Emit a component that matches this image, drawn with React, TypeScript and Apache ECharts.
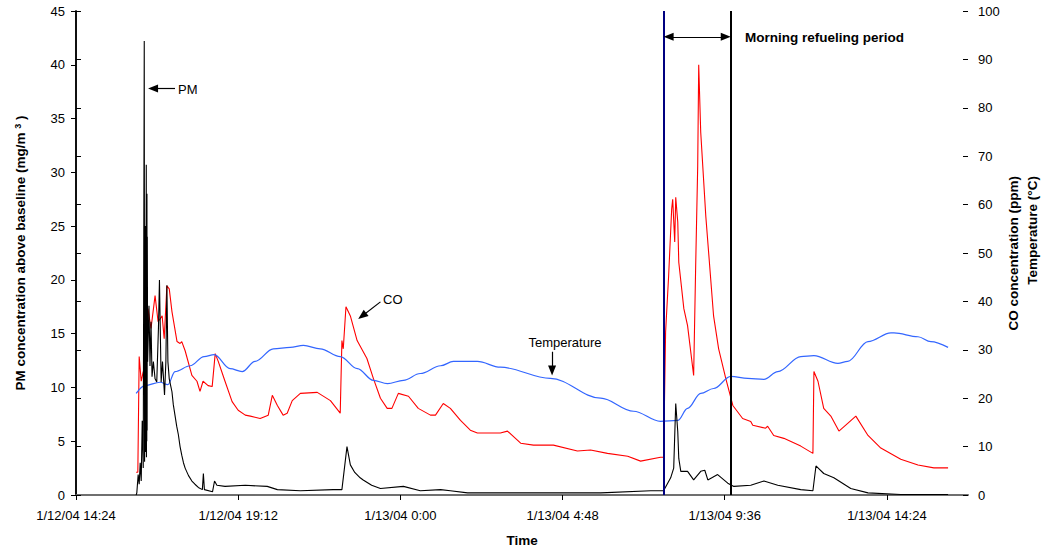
import { useEffect, useRef } from 'react';
import * as echarts from 'echarts';

// Hours elapsed since 1/12/04 14:24 on the x axis.
const xTickLabels = [
  '1/12/04 14:24',
  '1/12/04 19:12',
  '1/13/04 0:00',
  '1/13/04 4:48',
  '1/13/04 9:36',
  '1/13/04 14:24',
];
const tickHours = 4.8;
const spanHours = 26.4;

// Refueling window (hours since start)
const refuelStart = 17.39;
const refuelEnd = 19.38;

// PM concentration above baseline (mg/m3) — [hours, value]
const pmData: [number, number][] = [
  [1.78, 0], [1.8, 0.2], [1.84, 1.9], [1.87, 1.0], [1.9, 3.0], [1.93, 1.3], [1.96, 6.9], [1.99, 2.5],
  [2.02, 42.2], [2.03, 3.1], [2.05, 25.0], [2.06, 4.0], [2.08, 30.7], [2.085, 3.5], [2.09, 27.0],
  [2.095, 5.0], [2.1, 28.0], [2.105, 6.0], [2.11, 24.0], [2.12, 12.4], [2.16, 17.6], [2.19, 12.0],
  [2.22, 16.1], [2.25, 11.0], [2.29, 12.4], [2.34, 10.8], [2.39, 10.5], [2.44, 15.5], [2.47, 20.0],
  [2.52, 10.5], [2.56, 12.4], [2.62, 9.3], [2.66, 12.4], [2.69, 19.5], [2.72, 12.4], [2.76, 10.8],
  [2.8, 10.2], [2.84, 9.6], [2.88, 8.4], [2.93, 7.4], [2.98, 6.4], [3.03, 5.6], [3.08, 4.5],
  [3.13, 3.7], [3.18, 3.0], [3.23, 2.5], [3.33, 1.8], [3.43, 1.3], [3.52, 1.0], [3.62, 0.7],
  [3.74, 0.5], [3.77, 2.0], [3.8, 0.5], [4.04, 0.3], [4.1, 1.3], [4.17, 0.9], [4.41, 0.8],
  [5.01, 0.9], [5.66, 0.8], [5.96, 0.5], [6.64, 0.4], [7.61, 0.5], [7.87, 0.5], [8.02, 4.5],
  [8.12, 2.8], [8.25, 2.1], [8.41, 1.6], [8.5, 1.4], [8.75, 0.9], [9.01, 0.6], [9.69, 0.8],
  [10.19, 0.4], [10.79, 0.5], [11.08, 0.4], [11.59, 0.2], [12.56, 0.2], [15.53, 0.2], [17.01, 0.4],
  [17.39, 0.4], [17.6, 1.6], [17.69, 2.5], [17.75, 8.5], [17.81, 5.9], [17.84, 3.4], [17.9, 2.2],
  [18.1, 2.2], [18.28, 1.4], [18.49, 2.2], [18.61, 2.3], [18.7, 1.4], [18.99, 1.9], [19.29, 1.1],
  [19.47, 0.8], [19.97, 0.9], [20.36, 1.3], [20.77, 0.9], [21.45, 0.5], [21.81, 0.4], [21.9, 2.7],
  [22.13, 2.0], [22.43, 1.6], [22.93, 0.6], [23.44, 0.2], [24.41, 0.05], [25.81, 0.05],
];

// CO concentration (ppm) — [hours, value]
const coData: [number, number][] = [
  [1.78, 4.7], [1.83, 4.7], [1.87, 28.6], [1.93, 23.5], [1.99, 25.5], [2.07, 25.2], [2.13, 38.5],
  [2.22, 34.4], [2.34, 41.2], [2.43, 35.8], [2.55, 37.0], [2.61, 32.3], [2.69, 43.2], [2.76, 42.6],
  [2.84, 37.9], [2.99, 31.7], [3.08, 31.3], [3.13, 31.7], [3.23, 29.8], [3.43, 24.7], [3.58, 23.5],
  [3.67, 21.4], [3.76, 23.5], [3.91, 22.6], [4.03, 22.4], [4.12, 29.2], [4.21, 27.6], [4.41, 23.5],
  [4.62, 19.3], [4.8, 17.5], [5.01, 16.5], [5.16, 16.3], [5.45, 15.8], [5.69, 16.5], [5.81, 20.6],
  [5.96, 18.5], [6.13, 16.5], [6.25, 16.9], [6.4, 19.5], [6.64, 21.0], [7.14, 21.2], [7.53, 19.5],
  [7.82, 16.9], [7.87, 31.9], [7.91, 30.2], [7.99, 38.9], [8.12, 37.0], [8.32, 31.9], [8.61, 28.2],
  [8.8, 24.1], [9.01, 20.0], [9.21, 17.9], [9.35, 17.9], [9.54, 21.0], [9.84, 20.4], [10.13, 17.9],
  [10.49, 16.5], [10.64, 16.5], [10.87, 18.9], [11.08, 17.9], [11.38, 15.4], [11.67, 13.4],
  [11.88, 12.8], [12.56, 12.8], [12.77, 13.2], [13.16, 10.7], [13.54, 10.3], [14.13, 10.3],
  [14.84, 9.1], [15.23, 9.3], [15.73, 8.6], [16.33, 8.0], [16.71, 7.0], [17.3, 7.8], [17.39, 7.8],
  [17.45, 33.7], [17.54, 45.3], [17.63, 59.1], [17.66, 61.1], [17.72, 52.3], [17.75, 61.5],
  [17.81, 56.4], [17.84, 48.1], [17.99, 38.5], [18.1, 35.0], [18.28, 24.7], [18.34, 47.3],
  [18.4, 67.9], [18.43, 88.9], [18.49, 74.9], [18.64, 57.6], [18.87, 37.0], [19.02, 30.2],
  [19.23, 24.1], [19.44, 18.5], [19.73, 15.8], [19.97, 15.2], [20.03, 14.4], [20.41, 13.8],
  [20.47, 14.2], [20.65, 12.3], [20.95, 11.7], [21.45, 10.1], [21.81, 8.6], [21.84, 25.5],
  [21.96, 23.5], [22.13, 17.9], [22.34, 16.3], [22.58, 13.2], [22.84, 14.8], [23.08, 16.3],
  [23.44, 12.3], [23.82, 9.7], [24.41, 7.4], [24.92, 6.2], [25.39, 5.6], [25.81, 5.6],
];

// Temperature (°C) — [hours, value]
const tempData: [number, number][] = [
  [1.78, 21.0], [2.04, 22.6], [2.49, 23.3], [2.72, 22.8], [2.93, 25.5], [3.38, 26.7], [3.79, 28.6],
  [4.09, 29.0], [4.56, 26.1], [4.92, 25.5], [5.3, 27.6], [5.84, 30.2], [6.34, 30.5], [6.73, 30.9],
  [7.23, 30.2], [7.82, 28.6], [8.33, 26.1], [8.8, 23.7], [9.22, 23.0], [9.69, 23.7], [10.19, 25.1],
  [10.79, 26.7], [11.17, 27.6], [11.88, 27.6], [12.56, 26.4], [14.04, 24.1], [15.53, 20.0],
  [16.5, 17.3], [17.3, 15.2], [17.81, 15.4], [18.1, 17.9], [18.49, 21.0], [18.87, 22.0],
  [19.38, 24.5], [19.88, 24.1], [20.36, 23.9], [20.77, 25.5], [21.45, 28.6], [21.84, 28.8],
  [22.55, 27.2], [22.84, 27.6], [23.44, 31.7], [24.12, 33.5], [24.21, 33.5], [24.92, 32.7],
  [25.3, 31.7], [25.81, 30.5],
];

const FONT = '"Liberation Sans", Arial, Helvetica, sans-serif';
const arrowHead = { symbol: 'triangle', symbolSize: [8, 10] };

export default function App() {
  const ref = useRef<HTMLDivElement>(null);

  useEffect(() => {
    document.body.style.margin = '0';
    const chart = echarts.init(ref.current!, null, { renderer: 'svg' });

    const tickLabel = (v: number) => {
      const i = Math.round(v / tickHours);
      if (Math.abs(v - i * tickHours) > 1e-6) return '';
      return xTickLabels[i] ?? '';
    };

    const tickText = { color: '#000', fontSize: 13, fontFamily: FONT };

    chart.setOption({
      animation: false,
      backgroundColor: '#fff',
      textStyle: { fontFamily: FONT },
      grid: { left: 76, right: 76, top: 11, bottom: 55, containLabel: false },
      xAxis: [
        {
          type: 'value',
          min: 0,
          max: spanHours,
          interval: tickHours,
          position: 'bottom',
          axisLine: { show: true, lineStyle: { color: '#000', width: 1.5 } },
          axisTick: { show: true, length: 5, lineStyle: { color: '#000', width: 1 } },
          axisLabel: { ...tickText, margin: 14, formatter: tickLabel, showMaxLabel: false },
          splitLine: { show: false },
          name: 'Time',
          nameLocation: 'middle',
          nameGap: 38,
          nameTextStyle: { color: '#000', fontWeight: 'bold', fontSize: 13.5, fontFamily: FONT },
        },
        {
          type: 'value',
          min: 0,
          max: spanHours,
          position: 'top',
          axisLine: { show: true, lineStyle: { color: '#808080', width: 1.5 } },
          axisTick: { show: false },
          axisLabel: { show: false },
          splitLine: { show: false },
        },
      ],
      yAxis: [
        {
          type: 'value',
          min: 0,
          max: 45,
          interval: 5,
          position: 'left',
          axisLine: { show: true, lineStyle: { color: '#000', width: 1.5 } },
          axisTick: { show: true, length: 5, lineStyle: { color: '#000' } },
          axisLabel: { ...tickText, margin: 11 },
          splitLine: { show: false },
          name: '{t|PM concentration above baseline (mg/m }{s|3}{t| )}',
          nameLocation: 'middle',
          nameGap: 48,
          nameTextStyle: {
            rich: {
              t: { fontWeight: 'bold', fontSize: 13.5, color: '#000', fontFamily: FONT },
              s: { fontWeight: 'bold', fontSize: 9, color: '#000', fontFamily: FONT, verticalAlign: 'top', padding: [0, 0, 6, 0] },
            },
          },
        },
        {
          type: 'value',
          min: 0,
          max: 100,
          interval: 10,
          position: 'right',
          axisLine: { show: true, lineStyle: { color: '#000', width: 1.5 } },
          axisTick: { show: true, length: 5, lineStyle: { color: '#000' } },
          axisLabel: { ...tickText, margin: 10 },
          splitLine: { show: false },
        },
        {
          // inner half of the crossing ticks on the right axis
          type: 'value',
          min: 0,
          max: 100,
          interval: 10,
          position: 'right',
          axisLine: { show: false },
          axisTick: { show: true, inside: true, length: 5, lineStyle: { color: '#000' } },
          axisLabel: { show: false },
          splitLine: { show: false },
        },
      ],
      series: [
        {
          name: 'CO',
          type: 'line',
          yAxisIndex: 1,
          data: coData,
          showSymbol: false,
          symbol: 'none',
          lineStyle: { color: '#ff0000', width: 1.1 },
          z: 2,
          markLine: {
            silent: true,
            symbol: ['none', 'none'],
            label: { show: false },
            lineStyle: { color: '#000', width: 1.2, type: 'solid' },
            data: [
              [
                { coord: [9.01, 39.9] },
                { coord: [8.47, 37.0], ...arrowHead },
              ],
            ],
          },
        },
        {
          name: 'Temperature',
          type: 'line',
          yAxisIndex: 1,
          data: tempData,
          showSymbol: false,
          symbol: 'none',
          smooth: 0.35,
          smoothMonotone: 'x',
          lineStyle: { color: '#3366ff', width: 1.2 },
          z: 3,
          markLine: {
            silent: true,
            symbol: ['none', 'none'],
            label: { show: false },
            lineStyle: { color: '#000', width: 1.2, type: 'solid' },
            data: [
              [
                { coord: [14.09, 29.6] },
                { coord: [14.09, 25.7], ...arrowHead },
              ],
            ],
          },
        },
        {
          name: 'PM',
          type: 'line',
          yAxisIndex: 0,
          data: pmData,
          showSymbol: false,
          symbol: 'none',
          lineStyle: { color: '#000', width: 1.1 },
          z: 4,
          markLine: {
            silent: true,
            symbol: ['none', 'none'],
            label: { show: false },
            lineStyle: { color: '#000', width: 1.2, type: 'solid' },
            data: [
              { xAxis: refuelStart, lineStyle: { color: '#000080', width: 2 } },
              { xAxis: refuelEnd, lineStyle: { color: '#000', width: 2 } },
              [
                { coord: [17.54, 42.6], ...arrowHead },
                { coord: [19.23, 42.6], ...arrowHead },
              ],
              [
                { coord: [2.93, 37.8] },
                { coord: [2.28, 37.8], ...arrowHead },
              ],
            ],
          },
        },
      ],
      graphic: [
        {
          type: 'text',
          x: 178,
          y: 89,
          style: { text: 'PM', fill: '#000', font: `13px ${FONT}`, textVerticalAlign: 'middle' },
        },
        {
          type: 'text',
          x: 383,
          y: 299,
          style: { text: 'CO', fill: '#000', font: `13px ${FONT}`, textVerticalAlign: 'middle' },
        },
        {
          type: 'text',
          x: 565,
          y: 342,
          style: { text: 'Temperature', fill: '#000', font: `13px ${FONT}`, textAlign: 'center', textVerticalAlign: 'middle' },
        },
        {
          type: 'text',
          x: 745,
          y: 37,
          style: { text: 'Morning refueling period', fill: '#000', font: `bold 13.5px ${FONT}`, textVerticalAlign: 'middle' },
        },
        {
          type: 'text',
          x: 1013,
          y: 176,
          rotation: Math.PI / 2,
          style: { text: 'CO concentration (ppm)', fill: '#000', font: `bold 13.5px ${FONT}`, textAlign: 'right', textVerticalAlign: 'middle' },
        },
        {
          type: 'text',
          x: 1032,
          y: 176,
          rotation: Math.PI / 2,
          style: { text: 'Temperature (°C)', fill: '#000', font: `bold 13.5px ${FONT}`, textAlign: 'right', textVerticalAlign: 'middle' },
        },
      ],
    });

    return () => chart.dispose();
  }, []);

  return <div ref={ref} style={{ width: 1044, height: 552 }} />;
}
